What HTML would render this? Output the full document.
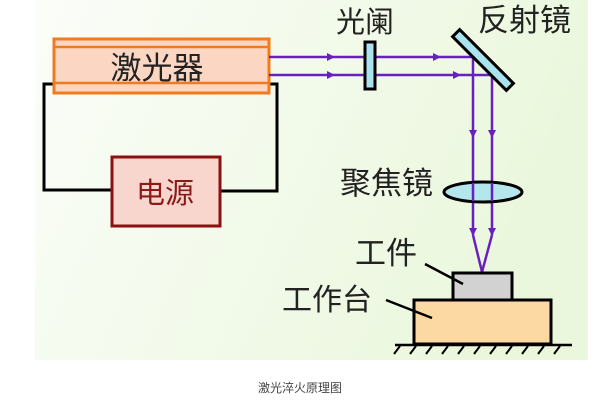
<!DOCTYPE html>
<html><head><meta charset="utf-8"><style>
html,body{margin:0;padding:0;background:#fff;}
body{width:600px;height:400px;overflow:hidden;}
text{font-family:"Liberation Sans","Noto Sans CJK SC",sans-serif;}
</style></head><body>
<svg width="600" height="400" viewBox="0 0 600 400" xmlns="http://www.w3.org/2000/svg">
<defs>
<linearGradient id="bg" x1="0" y1="0" x2="1" y2="0.3">
<stop offset="0" stop-color="#fbfdf9"/><stop offset="1" stop-color="#eaf7dc"/>
</linearGradient>
<marker id="ar" markerWidth="8" markerHeight="8" refX="7" refY="4" orient="auto" markerUnits="userSpaceOnUse">
<path d="M0,0 L8,4 L0,8 z" fill="#6a1fc0"/></marker>
</defs>
<rect x="35" y="0" width="553" height="360" fill="url(#bg)"/>
<polyline points="53,84 44,84 44,190 112,190" fill="none" stroke="#000" stroke-width="3"/>
<polyline points="269,84 277,84 277,191 220,191" fill="none" stroke="#000" stroke-width="3"/>
<rect x="54" y="39" width="215" height="54" fill="#fbd6c2" stroke="#f07a1e" stroke-width="3"/>
<line x1="54" y1="47" x2="269" y2="47" stroke="#f07a1e" stroke-width="2.5"/>
<line x1="54" y1="83" x2="269" y2="83" stroke="#f07a1e" stroke-width="2.5"/>
<text x="157" y="79" font-size="31" text-anchor="middle" fill="#222">激光器</text>
<rect x="112" y="157" width="108" height="69" fill="#f8d6cd" stroke="#8b1010" stroke-width="3"/>
<text x="165" y="203" font-size="29" text-anchor="middle" fill="#8b1a1a">电源</text>
<g stroke="#6a1fc0" stroke-width="2.5" fill="none">
<line x1="269" y1="57" x2="334" y2="57" marker-end="url(#ar)"/>
<line x1="269" y1="75" x2="334" y2="75" marker-end="url(#ar)"/>
<line x1="334" y1="57" x2="440" y2="57" marker-end="url(#ar)"/>
<line x1="334" y1="75" x2="460" y2="75" marker-end="url(#ar)"/>
<line x1="440" y1="57" x2="473" y2="57"/>
<line x1="460" y1="75" x2="492" y2="75"/>
<line x1="473" y1="57" x2="473" y2="137" marker-end="url(#ar)"/>
<line x1="492" y1="75" x2="492" y2="137" marker-end="url(#ar)"/>
<line x1="473" y1="137" x2="473" y2="235" marker-end="url(#ar)"/>
<line x1="492" y1="137" x2="492" y2="235" marker-end="url(#ar)"/>
<polyline points="473,235 482,272 492,235"/>
</g>
<rect x="365" y="42" width="10" height="47" fill="#a9e4ee" stroke="#000" stroke-width="3"/>
<g transform="translate(483,60) rotate(45)">
<rect x="-38" y="-5" width="76" height="10" fill="#a9e4ee" stroke="#000" stroke-width="3"/>
</g>
<ellipse cx="483" cy="192" rx="39" ry="10" fill="#a9e4ee" fill-opacity="0.85" stroke="#000" stroke-width="3"/>
<line x1="473" y1="183" x2="473" y2="201" stroke="#6a1fc0" stroke-width="2.5"/>
<line x1="492" y1="183" x2="492" y2="201" stroke="#6a1fc0" stroke-width="2.5"/>
<rect x="453" y="273" width="59" height="27" fill="#d2d2d2" stroke="#000" stroke-width="3"/>
<rect x="414" y="300" width="137" height="44" fill="#fcd9a3" stroke="#000" stroke-width="3"/>
<line x1="395" y1="345" x2="572" y2="345" stroke="#000" stroke-width="2.5"/>
<g stroke="#000" stroke-width="2">
<line x1="400" y1="346" x2="394" y2="354"/><line x1="416" y1="346" x2="410" y2="354"/><line x1="432" y1="346" x2="426" y2="354"/><line x1="448" y1="346" x2="442" y2="354"/><line x1="464" y1="346" x2="458" y2="354"/><line x1="480" y1="346" x2="474" y2="354"/><line x1="496" y1="346" x2="490" y2="354"/><line x1="512" y1="346" x2="506" y2="354"/><line x1="528" y1="346" x2="522" y2="354"/><line x1="544" y1="346" x2="538" y2="354"/><line x1="560" y1="346" x2="554" y2="354"/>
</g>
<line x1="425" y1="264" x2="463" y2="284" stroke="#000" stroke-width="2.5"/>
<line x1="386" y1="300" x2="432" y2="318" stroke="#000" stroke-width="2.5"/>
<g fill="#222">
<text x="336" y="32" font-size="29">光阑</text>
<text x="478" y="31" font-size="31">反射镜</text>
<text x="340" y="194" font-size="31">聚焦镜</text>
<text x="355" y="264" font-size="31">工件</text>
<text x="282" y="310" font-size="30">工作台</text>
</g>
<text x="300" y="392" font-size="12" text-anchor="middle" fill="#444">激光淬火原理图</text>
</svg>
</body></html>
